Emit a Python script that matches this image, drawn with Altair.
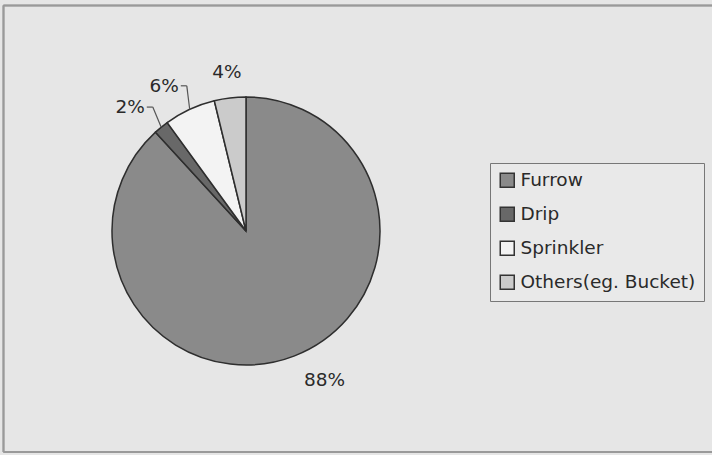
import altair as alt
import pandas as pd

categories = ["Furrow", "Drip", "Sprinkler", "Others(eg. Bucket)"]
values = [88.2, 1.8, 6.2, 3.8]
labels = ["88%", "2%", "6%", "4%"]
colors = ["#8a8a8a", "#686868", "#f3f3f3", "#cbcbcb"]

df = pd.DataFrame({
    "category": categories,
    "value": values,
    "label": labels,
    "order": list(range(len(categories))),
})

CX, CY, R, RL = 246, 231, 134, 160
FONT = "DejaVu Sans"

pie = alt.Chart(df).mark_arc(outerRadius=R, stroke="#2e2e2e", strokeWidth=1.5).encode(
    theta=alt.Theta("value:Q", stack=True),
    order=alt.Order("order:Q"),
    color=alt.Color(
        "category:N",
        scale=alt.Scale(domain=categories, range=colors),
        legend=alt.Legend(
            title=None, orient="none", legendX=490, legendY=163,
            symbolType="square", symbolSize=196, symbolStrokeColor="#333",
            symbolStrokeWidth=1.5, labelFont=FONT, labelFontSize=18.5,
            labelColor="#2a2a2a", padding=8, rowPadding=13, strokeColor="#777",
            fillColor="#e9e9e9", labelOffset=4, labelLimit=300, cornerRadius=0,
        ),
    ),
    x=alt.value(CX),
    y=alt.value(CY),
)

calc = alt.Chart(df).transform_joinaggregate(
    total="sum(value)"
).transform_window(
    cum="sum(value)", sort=[alt.SortField("order")], frame=[None, 0]
).transform_calculate(
    a="2*PI*(datum.cum - datum.value/2)/datum.total",
).transform_calculate(
    s="sin(datum.a)",
    ax=f"{CX} + {RL}*sin(datum.a)",
    ay=f"{CY} - {RL}*cos(datum.a)",
    ex=f"{CX} + {R}*sin(datum.a)",
    ey=f"{CY} - {R}*cos(datum.a)",
).transform_calculate(
    lx1="datum.ax + 2",
    lx2="datum.ax + 8",
)

X = alt.X("ax:Q", scale=None, axis=None)
Y = alt.Y("ay:Q", scale=None, axis=None)
tstyle = dict(font=FONT, fontSize=18.5, color="#2a2a2a", baseline="middle")

txt_left = calc.transform_filter("datum.s > 0.2").mark_text(align="left", **tstyle).encode(x=X, y=Y, text="label:N")
txt_right = calc.transform_filter("datum.s < -0.2").mark_text(align="right", **tstyle).encode(x=X, y=Y, text="label:N")
txt_mid = calc.transform_filter("abs(datum.s) <= 0.2").mark_text(align="center", **tstyle).encode(x=X, y=Y, text="label:N")

lead1 = calc.transform_filter("datum.s < -0.2").mark_rule(color="#555", strokeWidth=1.2).encode(
    x=alt.X("lx1:Q", scale=None, axis=None), x2="lx2:Q", y=Y)
lead2 = calc.transform_filter("datum.s < -0.2").mark_rule(color="#555", strokeWidth=1.2).encode(
    x=alt.X("lx2:Q", scale=None, axis=None), x2="ex:Q", y=Y, y2="ey:Q")

top = alt.Chart(df).mark_rule(color="#9a9a9a", strokeWidth=1.5).encode(
    x=alt.value(3.5), x2=alt.value(712), y=alt.value(5.5))
left = alt.Chart(df).mark_rule(color="#9a9a9a", strokeWidth=1.5).encode(
    x=alt.value(3.5), y=alt.value(5.5), y2=alt.value(452))
bottom = alt.Chart(df).mark_rule(color="#9a9a9a", strokeWidth=1.5).encode(
    x=alt.value(3.5), x2=alt.value(712), y=alt.value(452))

chart = alt.layer(top, left, bottom, pie, lead1, lead2, txt_left, txt_right, txt_mid).properties(
    width=712, height=455, padding=0,
    autosize=alt.AutoSizeParams(type="none"),
    background="#e6e6e6",
).configure_view(stroke=None)

chart.save("out.html", embed_options={"renderer": "svg", "actions": False})
